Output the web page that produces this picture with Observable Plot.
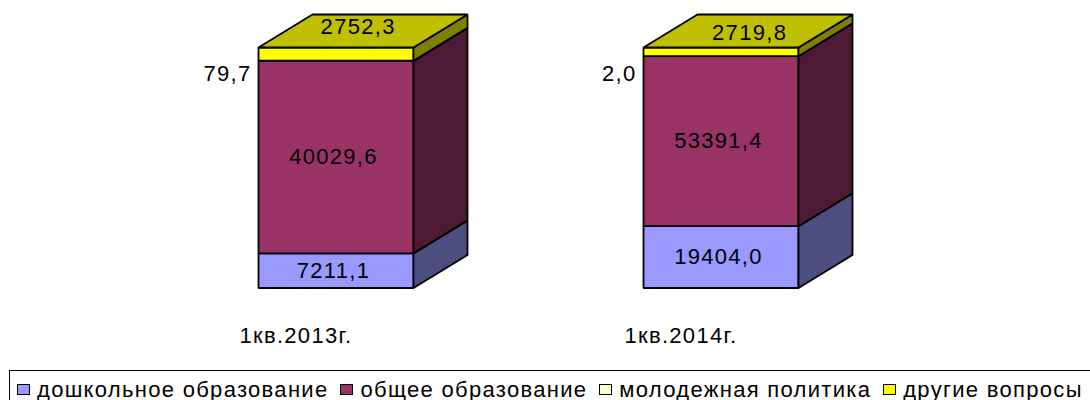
<!DOCTYPE html>
<html><head><meta charset="utf-8">
<script src="https://cdn.jsdelivr.net/npm/d3@7"></script>
<script src="https://cdn.jsdelivr.net/npm/@observablehq/plot@0.6"></script>
<style>
html,body{margin:0;padding:0;background:#fff;overflow:hidden;width:1090px;height:400px}
#chart svg{display:block;font-family:"Liberation Sans",Arial,sans-serif}
#chart text{letter-spacing:1.3px}
#legend{margin-left:9px;height:30px;width:1090px;border-top:1.8px solid #000;border-left:1.8px solid #000;box-sizing:border-box;
 font:22px "Liberation Sans",Arial,sans-serif;color:#000;display:flex;align-items:center;white-space:nowrap;padding:8px 0 0 6.5px;letter-spacing:1.3px}
#legend span.s{display:inline-block;width:11.5px;height:8.5px;border:1.8px solid #000;margin-right:7px;flex:none}
#legend span.i{display:flex;align-items:center;margin-right:11.5px}
</style></head><body>
<div id="chart"></div><div id="legend"></div>
<script>
const quarters = ["1кв.2013г.", "1кв.2014г."];
const seriesNames = ["дошкольное образование", "общее образование", "молодежная политика", "другие вопросы"];
const values2013 = [7211.1, 40029.6, 79.7, 2752.3];
const values2014 = [19404.0, 53391.4, 2.0, 2719.8];
const valueLabels2013 = ["7211,1", "40029,6", "79,7", "2752,3"];
const valueLabels2014 = ["19404,0", "53391,4", "2,0", "2719,8"];
const frontColors = ["#9999ff", "#993366", "#ffffcc", "#ffff00"];
const sideColors = ["#4d4d80", "#4d1a33", "#808066", "#808000"];
const topColor = "#bfbf00";

// oblique-projection depth, in scale units
const barW = 155 / 385, depthX = 54 / 385, depthY = 33 / 240.5 * 100;

const columns = [values2013, values2014];
const columnLabels = [valueLabels2013, valueLabels2014];
const polys = [], inner = [], outside = [];
let order = 0;
const addFace = (pts, fill) => { order++; pts.forEach(([x, y]) => polys.push({x, y, fill, id: order})); };

columns.forEach((vals, c) => {
  const total = d3.sum(vals);
  let acc = 0;
  vals.forEach((v, s) => {
    const y0 = acc / total * 100, y1 = (acc + v) / total * 100;
    acc += v;
    addFace([[c, y0], [c + barW, y0], [c + barW, y1], [c, y1]], frontColors[s]);
    addFace([[c + barW, y0], [c + barW + depthX, y0 + depthY], [c + barW + depthX, y1 + depthY], [c + barW, y1]], sideColors[s]);
    const t = columnLabels[c][s];
    if (s === 2) outside.push({x: c, y: 89, t});
    else if (s === 3) inner.push({x: c + barW / 2 + depthX * (c ? 0.53 : 0.41), y: 100 + (c ? 6.2 : 8.7), t});
    else inner.push({x: c + barW / 2, y: (y0 + y1) / 2, t, shift: true});
  });
  addFace([[c, 100], [c + barW, 100], [c + barW + depthX, 100 + depthY], [c + depthX, 100 + depthY]], topColor);
});

const catLabels = quarters.map((q, c) => ({x: c + barW / 2, q}));

const plot = Plot.plot({
  width: 1090, height: 370, margin: 0,
  x: {type: "linear", domain: [-258 / 385, (1090 - 258) / 385], range: [0, 1090], axis: null},
  y: {type: "linear", domain: [0, 100], range: [287.5, 47], axis: null},
  marks: [
    Plot.line(polys, {x: "x", y: "y", z: "id", fill: "fill", stroke: "#000", strokeWidth: 1.8, curve: "linear-closed", strokeLinejoin: "miter"}),
    Plot.text(inner.filter(d => d.shift), {x: "x", y: "y", text: "t", dx: -2.5, fontSize: 22, fill: "#000"}),
    Plot.text(inner.filter(d => !d.shift), {x: "x", y: "y", text: "t", fontSize: 22, fill: "#000"}),
    Plot.text(outside, {x: "x", y: "y", text: "t", textAnchor: "end", dx: -7, fontSize: 22, fill: "#000"}),
    Plot.text(catLabels, {x: "x", y: () => 0, text: "q", dy: 47.5, dx: -40, fontSize: 22, fill: "#000"})
  ]
});
document.getElementById("chart").append(plot);

const legend = document.getElementById("legend");
seriesNames.forEach((n, i) => {
  const e = document.createElement("span"); e.className = "i";
  const s = document.createElement("span"); s.className = "s"; s.style.background = frontColors[i];
  e.append(s, document.createTextNode(n));
  legend.append(e);
});
</script></body></html>
